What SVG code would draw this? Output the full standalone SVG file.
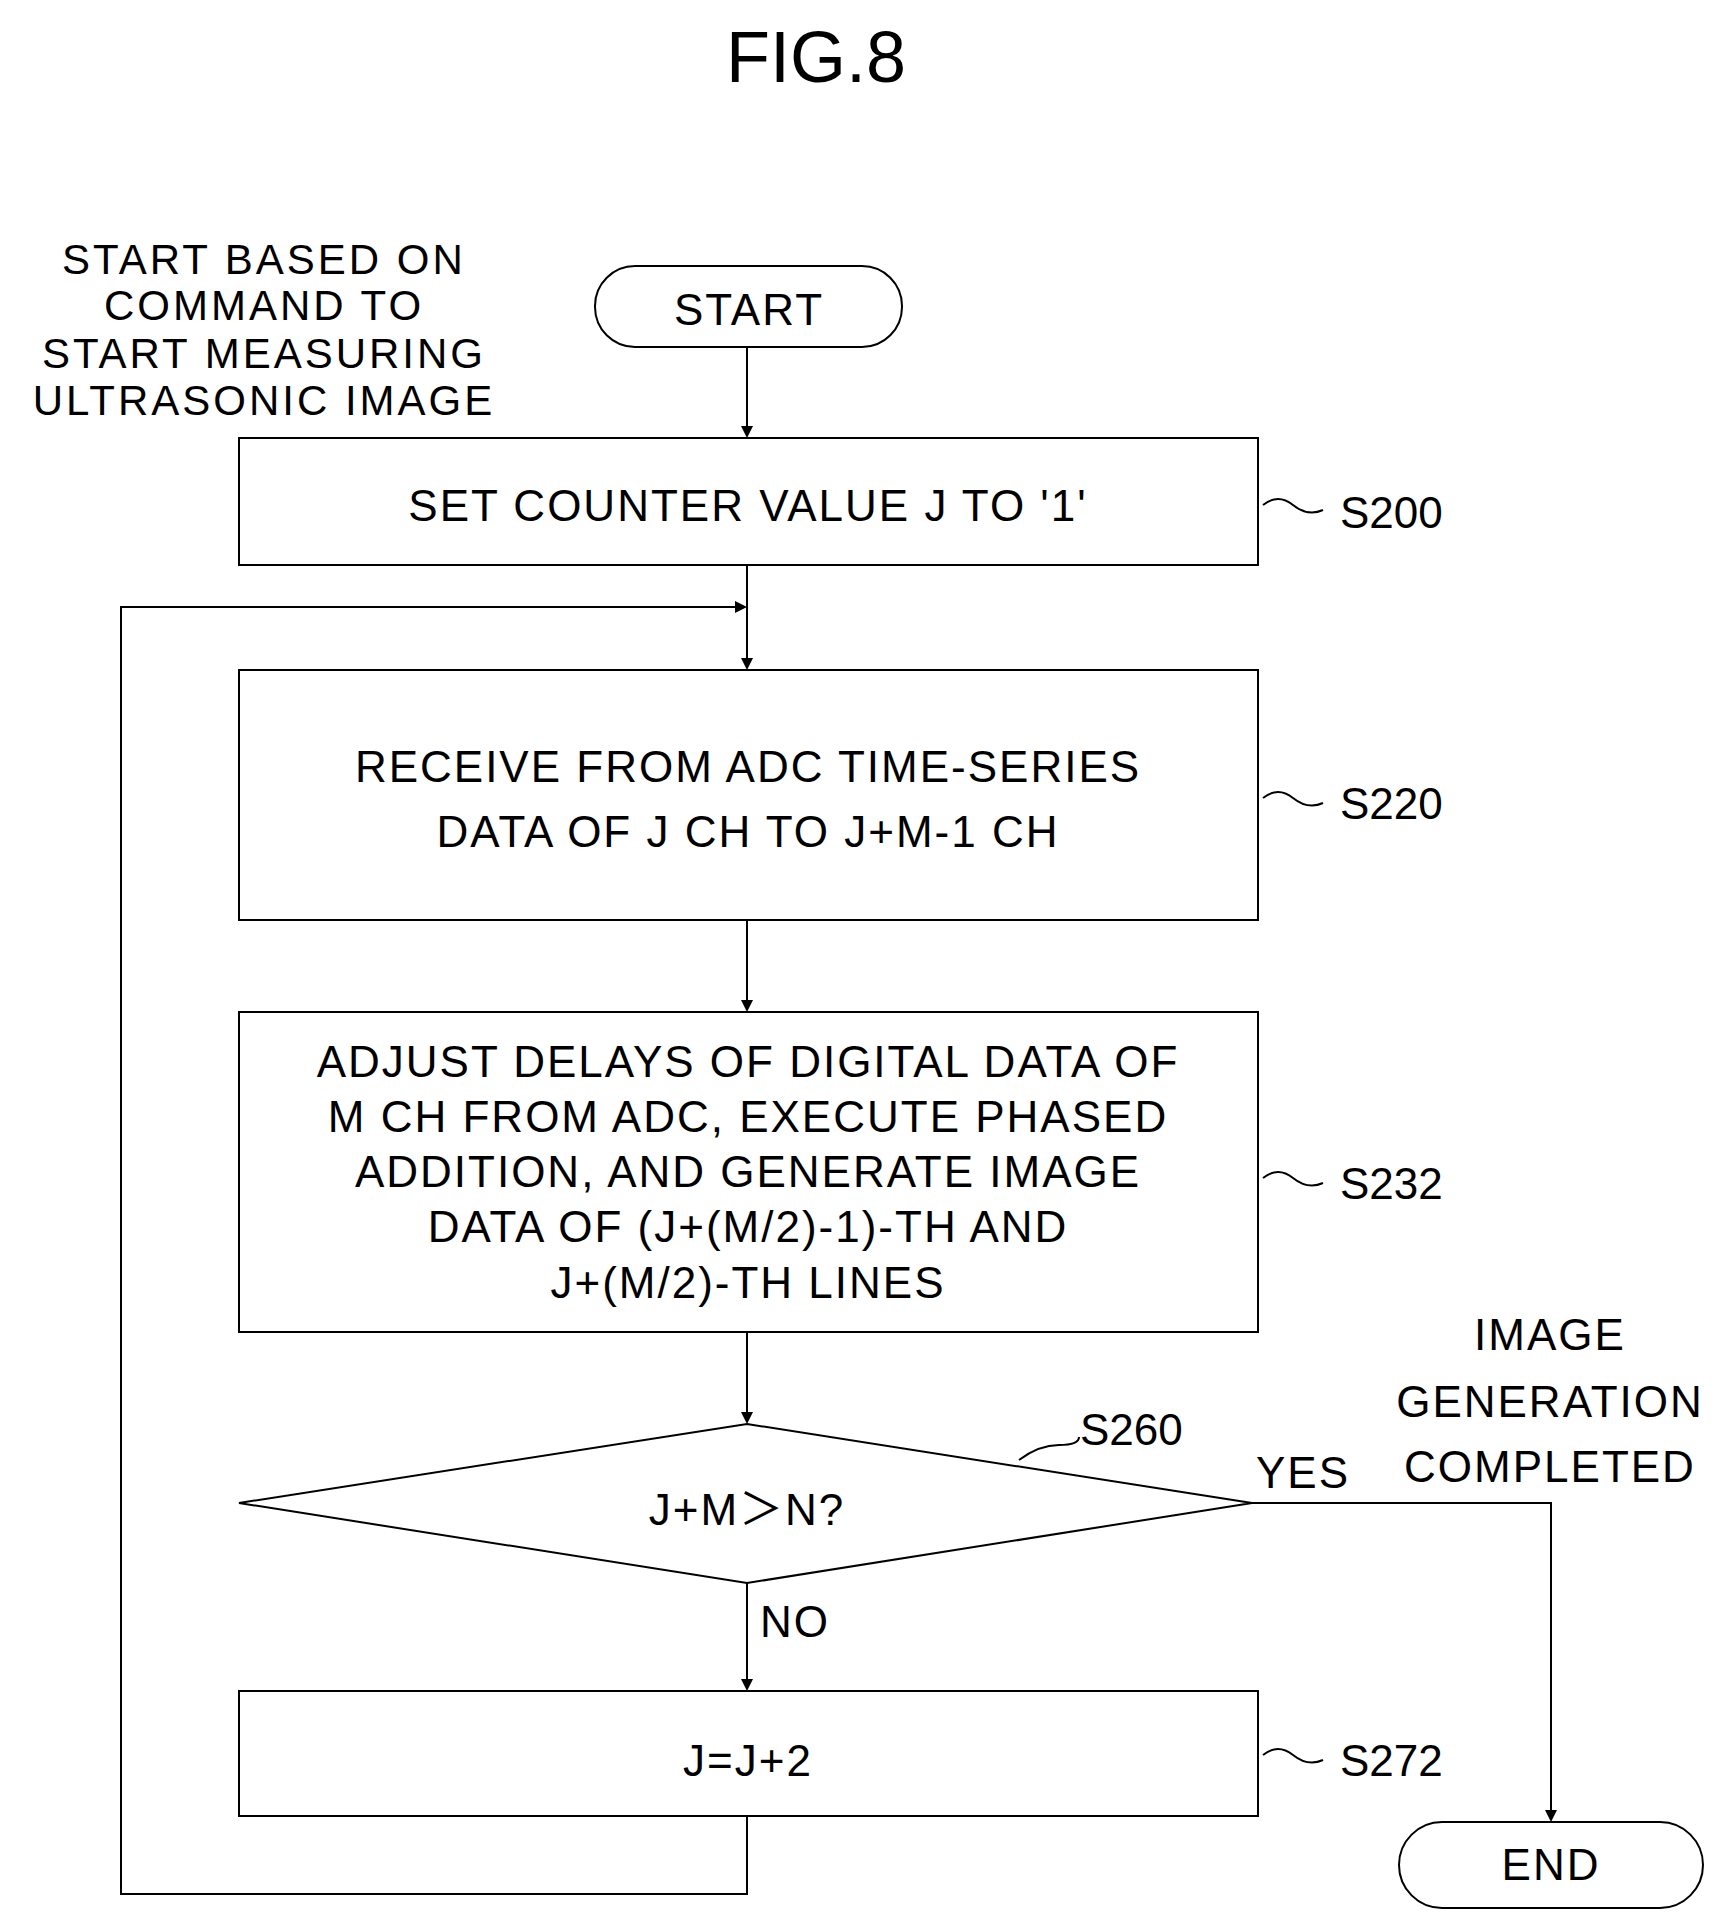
<svg xmlns="http://www.w3.org/2000/svg" width="1733" height="1929" viewBox="0 0 1733 1929">
<style>
text{font-family:"Liberation Sans","Noto Sans CJK JP",sans-serif;font-size:44px;fill:#000;text-anchor:middle;letter-spacing:2px}
.n{font-size:42px;letter-spacing:3px}
.b{fill:#fff;stroke:#000;stroke-width:2}
.c{fill:none;stroke:#000;stroke-width:2}
.lbl{text-anchor:start;letter-spacing:0}
</style>
<defs><marker id="a" markerWidth="12" markerHeight="12" refX="10" refY="6" orient="auto" markerUnits="userSpaceOnUse"><path d="M0,0 L12,6 L0,12 z" fill="#000"/></marker></defs>
<rect width="1733" height="1929" fill="#fff"/>
<text x="816" y="82" style="font-size:72px;letter-spacing:0">FIG.8</text>
<g id="note"><text class="n" x="264" y="274">START BASED ON</text><text class="n" x="264" y="320">COMMAND TO</text><text class="n" x="264" y="368">START MEASURING</text><text class="n" x="264" y="415">ULTRASONIC IMAGE</text></g>
<g id="start"><rect class="b" x="595" y="266" width="307" height="81" rx="40"/><text x="749" y="325">START</text></g>
<g id="s200"><rect class="b" x="239" y="438" width="1019" height="127"/><text x="748" y="521">SET COUNTER VALUE J TO '1'</text><text class="lbl" x="1340" y="528">S200</text><path class="c" d="M1263,505 q15,-12 30,0 t30,5"/></g>
<g id="s220"><rect class="b" x="239" y="670" width="1019" height="250"/><text x="748" y="782">RECEIVE FROM ADC TIME-SERIES</text><text x="748" y="847">DATA OF J CH TO J+M-1 CH</text><text class="lbl" x="1340" y="819">S220</text><path class="c" d="M1263,798 q15,-12 30,0 t30,5"/></g>
<g id="s232"><rect class="b" x="239" y="1012" width="1019" height="320"/><text x="748" y="1077">ADJUST DELAYS OF DIGITAL DATA OF</text><text x="748" y="1132">M CH FROM ADC, EXECUTE PHASED</text><text x="748" y="1187">ADDITION, AND GENERATE IMAGE</text><text x="748" y="1242">DATA OF (J+(M/2)-1)-TH AND</text><text x="748" y="1298">J+(M/2)-TH LINES</text><text class="lbl" x="1340" y="1199">S232</text><path class="c" d="M1263,1178 q15,-12 30,0 t30,5"/></g>
<g id="s260"><path class="b" d="M747,1424 L1252,1503 L747,1583 L239,1503 z"/><text x="747" y="1525">J+M＞N?</text><text class="lbl" x="1080" y="1445">S260</text><path class="c" d="M1019,1460 q20,-15 40,-15 t20,-8"/></g>
<g id="s272"><rect class="b" x="239" y="1691" width="1019" height="125"/><text x="748" y="1776">J=J+2</text><text class="lbl" x="1340" y="1776">S272</text><path class="c" d="M1263,1755 q15,-12 30,0 t30,5"/></g>
<g id="end"><rect class="b" x="1399" y="1822" width="304" height="86" rx="43"/><text x="1551" y="1880">END</text></g>
<g id="labels"><text x="1303" y="1488">YES</text><text x="795" y="1637">NO</text><text x="1550" y="1350">IMAGE</text><text x="1550" y="1417">GENERATION</text><text x="1550" y="1482">COMPLETED</text></g>
<g id="connectors">
<path class="c" d="M747,347 V436" marker-end="url(#a)"/>
<path class="c" d="M747,565 V668" marker-end="url(#a)"/>
<path class="c" d="M747,920 V1010" marker-end="url(#a)"/>
<path class="c" d="M747,1332 V1422" marker-end="url(#a)"/>
<path class="c" d="M747,1583 V1689" marker-end="url(#a)"/>
<path class="c" d="M1252,1503 H1551 V1820" marker-end="url(#a)"/>
<path class="c" d="M747,1816 V1894 H121 V607 H745" marker-end="url(#a)"/>
</g>
</svg>
